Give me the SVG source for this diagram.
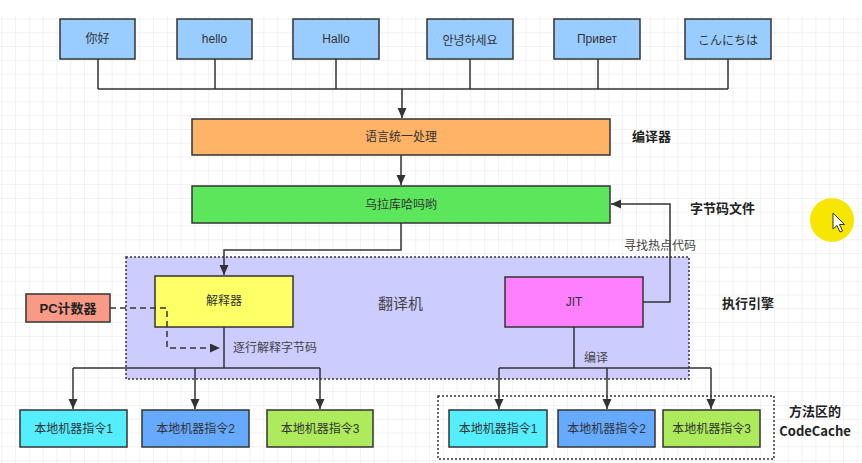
<svg xmlns="http://www.w3.org/2000/svg" width="862" height="463" viewBox="0 0 862 463">
<defs>
<pattern id="grid" x="2.2" y="5.7" width="13.8" height="13.8" patternUnits="userSpaceOnUse">
<path d="M13.8 0 V13.8 M0 13.8 H13.8" fill="none" stroke="#e6e6e6" stroke-width="1"/>
</pattern>
<marker id="arr" markerUnits="userSpaceOnUse" markerWidth="12" markerHeight="10" refX="10" refY="4.5" orient="auto">
<path d="M0,0 L10,4.5 L0,9 z" fill="#333"/>
</marker>
</defs>
<style>
.box{stroke:#333;stroke-width:1.5}
.t{font-family:"Liberation Sans","Noto Sans CJK SC",sans-serif;font-size:12px;fill:#333;text-anchor:middle;dominant-baseline:central}
.b{font-family:"Noto Sans CJK SC","Liberation Sans",sans-serif;font-size:13px;font-weight:bold;fill:#222;dominant-baseline:central}
.l{font-family:"Liberation Sans","Noto Sans CJK SC",sans-serif;font-size:12px;fill:#444;dominant-baseline:central}
.c{fill:none;stroke:#333;stroke-width:1.5}
.dot{stroke:#333;stroke-width:1.5;stroke-dasharray:2 2}
</style>
<rect x="0" y="0" width="862" height="463" fill="#fff"/>
<rect x="0" y="16" width="862" height="447" fill="url(#grid)"/>

<g id="exec-engine">
<rect class="dot" x="126" y="257" width="563" height="122" fill="#ccccff"/>
<text class="l" x="378" y="303" style="font-size:15px">翻译机</text>
</g>
<g id="codecache-area">
<rect class="dot" x="438" y="396" width="336" height="63" fill="none"/>
</g>

<g id="n-nihao"><rect class="box" x="60" y="19" width="75" height="40" fill="#99ccff"/><text class="t" x="97.5" y="39">你好</text></g>
<g id="n-hello"><rect class="box" x="177" y="19" width="75" height="40" fill="#99ccff"/><text class="t" x="214.5" y="39">hello</text></g>
<g id="n-hallo"><rect class="box" x="293" y="19" width="86" height="40" fill="#99ccff"/><text class="t" x="336" y="39">Hallo</text></g>
<g id="n-korean"><rect class="box" x="427" y="19" width="86" height="40" fill="#99ccff"/><text class="t" x="470" y="39" style="font-family:'Noto Sans CJK KR',sans-serif">안녕하세요</text></g>
<g id="n-russian"><rect class="box" x="554" y="19" width="86" height="40" fill="#99ccff"/><text class="t" x="597" y="39">Привет</text></g>
<g id="n-japanese"><rect class="box" x="685" y="19" width="86" height="40" fill="#99ccff"/><text class="t" x="728" y="39" style="font-family:'Noto Sans CJK JP',sans-serif">こんにちは</text></g>

<g id="n-unify"><rect class="box" x="192" y="119" width="418" height="36" fill="#ffb366"/><text class="t" x="401" y="137">语言统一处理</text></g>
<g id="lbl-compiler"><text class="b" x="632" y="135">编译器</text></g>
<g id="n-bytecode"><rect class="box" x="192" y="186" width="418" height="37" fill="#5ce65c"/><text class="t" x="401" y="205">乌拉库哈吗哟</text></g>
<g id="lbl-bytecode"><text class="b" x="690" y="207">字节码文件</text></g>
<g id="lbl-engine"><text class="b" x="722" y="302">执行引擎</text></g>

<g id="n-interpreter"><rect class="box" x="155" y="276" width="138" height="51" fill="#ffff66"/><text class="t" x="224" y="301">解释器</text></g>
<g id="n-jit"><rect class="box" x="505" y="277" width="138" height="50" fill="#ff80ff"/><text class="t" x="574" y="302">JIT</text></g>
<g id="n-pc"><rect class="box" x="26" y="294" width="84" height="28" fill="#f99a87"/><text class="t" x="68" y="308" style="font-weight:bold;font-size:13px;fill:#222">PC计数器</text></g>

<g id="n-l1"><rect class="box" x="20" y="410" width="107" height="37" fill="#55eeff"/><text class="t" x="73.5" y="429">本地机器指令1</text></g>
<g id="n-l2"><rect class="box" x="142" y="410" width="107" height="37" fill="#66aaff"/><text class="t" x="195.5" y="429">本地机器指令2</text></g>
<g id="n-l3"><rect class="box" x="267" y="410" width="106" height="37" fill="#adeb5c"/><text class="t" x="320" y="429">本地机器指令3</text></g>
<g id="n-r1"><rect class="box" x="449" y="410" width="98" height="37" fill="#55eeff"/><text class="t" x="498" y="429">本地机器指令1</text></g>
<g id="n-r2"><rect class="box" x="558" y="410" width="97" height="37" fill="#66aaff"/><text class="t" x="606.5" y="429">本地机器指令2</text></g>
<g id="n-r3"><rect class="box" x="663" y="410" width="97" height="37" fill="#adeb5c"/><text class="t" x="711.5" y="429">本地机器指令3</text></g>
<g id="lbl-codecache"><text class="b" x="815" y="410" text-anchor="middle">方法区的</text><text class="b" x="815" y="430" text-anchor="middle">CodeCache</text></g>

<g id="connectors">
<path class="c" d="M98,59 V89 M215,59 V89 M336,59 V89 M470,59 V89 M598,59 V89 M728,59 V89 M98,89 H728"/>
<path class="c" d="M402,89 V118" marker-end="url(#arr)"/>
<path class="c" d="M401,155 V185" marker-end="url(#arr)"/>
<path class="c" d="M401,223 V250 H224 V275" marker-end="url(#arr)"/>
<path class="c" d="M224,327 V368 M73,368 H320"/>
<path class="c" d="M73,368 V409" marker-end="url(#arr)"/>
<path class="c" d="M195,368 V409" marker-end="url(#arr)"/>
<path class="c" d="M320,368 V409" marker-end="url(#arr)"/>
<path class="c" d="M643,302 H670 V204 H611" marker-end="url(#arr)"/>
<path class="c" d="M574,327 V368 M499,368 H711"/>
<path class="c" d="M499,368 V409" marker-end="url(#arr)"/>
<path class="c" d="M607,368 V409" marker-end="url(#arr)"/>
<path class="c" d="M711,368 V409" marker-end="url(#arr)"/>
<path class="c" d="M110,308 H167 V348 H220" stroke-dasharray="6 4" marker-end="url(#arr)"/>
<text class="l" x="233" y="348">逐行解释字节码</text>
<text class="l" x="624" y="246">寻找热点代码</text>
<text class="l" x="584" y="358">编译</text>
</g>

<g id="cursor">
<circle cx="832" cy="220" r="22" fill="#f7e600"/>
<path d="M833,213 L833,229 L837,225.5 L840,232 L842.5,231 L839.5,224.5 L844.5,224.5 Z" fill="#fff" stroke="#333" stroke-width="1"/>
</g>
</svg>
